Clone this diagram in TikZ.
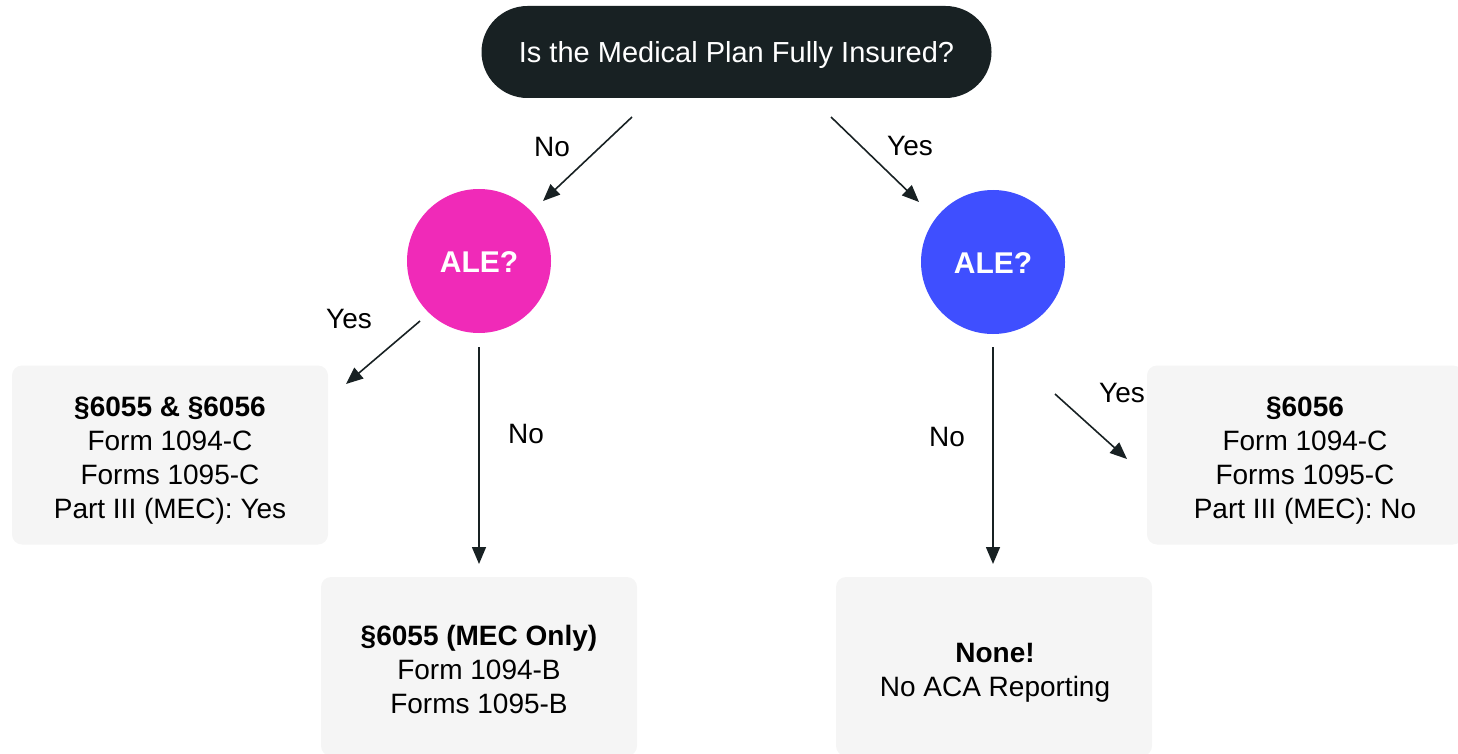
\documentclass[tikz,border=0pt]{standalone}
\usepackage{fontspec}
\setmainfont{Liberation Sans}
\usetikzlibrary{arrows.meta}
\definecolor{darkq}{HTML}{182123}
\definecolor{pinkc}{HTML}{F02AB8}
\definecolor{bluec}{HTML}{3F4FFF}
\definecolor{boxg}{HTML}{F5F5F5}
\begin{document}
\begin{tikzpicture}[x=1pt,y=-1pt,
  txt/.style={font=\fontsize{28}{34}\selectfont},
  resbox/.style={fill=boxg, rounded corners=10pt, minimum width=316pt, minimum height=179pt, inner sep=0pt},
  restxt/.style={align=center, txt, inner sep=0pt, text=black},
  dec/.style={circle, minimum size=144pt, font=\bfseries\fontsize{30}{36}\selectfont, text=white, inner sep=0pt, text height=23pt, text depth=0pt},
  arr/.style={draw=darkq, line width=1.6pt, -{Triangle[length=17pt,width=14pt]}},
  lab/.style={txt, inner sep=0pt, text=black}]
\useasboundingbox (0,0) rectangle (1458,754);
\node[fill=darkq, rounded corners=46pt, minimum width=510pt, minimum height=92pt, text=white, font=\fontsize{29}{34}\selectfont, inner sep=0pt, text height=22pt, text depth=0pt] (q) at (736.5,52) {Is the Medical Plan Fully Insured?};
\node[dec, fill=pinkc] (ale1) at (479,261) {ALE?};
\node[dec, fill=bluec] (ale2) at (993,262) {ALE?};
\node[resbox] (b1) at (170,455) {};
\node[resbox] (b2) at (1305,455) {};
\node[resbox] (b3) at (479,666.5) {};
\node[resbox] (b4) at (994,666.5) {};
\node[restxt] (b1t) at (170,461) {{\bfseries §6055 \& §6056}\\Form 1094-C\\Forms 1095-C\\Part III (MEC): Yes};
\node[restxt] (b2t) at (1305,461) {{\bfseries §6056}\\Form 1094-C\\Forms 1095-C\\Part III (MEC): No};
\node[restxt] (b3t) at (479,669.5) {{\bfseries §6055 (MEC Only)}\\Form 1094-B\\Forms 1095-B};
\node[restxt] (b4t) at (995,672.5) {{\bfseries None!}\\No ACA Reporting};
\node[lab] (l1) at (552,147) {No};
\node[lab] (l2) at (910,146) {Yes};
\node[lab] (l3) at (349,319) {Yes};
\node[lab] (l4) at (526,434) {No};
\node[lab] (l5) at (947,437) {No};
\node[lab] (l6) at (1122,393) {Yes};
\coordinate (a1s) at (632,117); \coordinate (a1e) at (543,201);
\coordinate (a2s) at (831,117); \coordinate (a2e) at (919,202);
\coordinate (a3s) at (420,321); \coordinate (a3e) at (346,384);
\coordinate (a4s) at (479,347); \coordinate (a4e) at (479,564);
\coordinate (a5s) at (993,347); \coordinate (a5e) at (993,564);
\coordinate (a6s) at (1055,394); \coordinate (a6e) at (1127,459);
\draw[arr] (a1s) -- (a1e);
\draw[arr] (a2s) -- (a2e);
\draw[arr] (a3s) -- (a3e);
\draw[arr] (a4s) -- (a4e);
\draw[arr] (a5s) -- (a5e);
\draw[arr] (a6s) -- (a6e);
\end{tikzpicture}
\end{document}
